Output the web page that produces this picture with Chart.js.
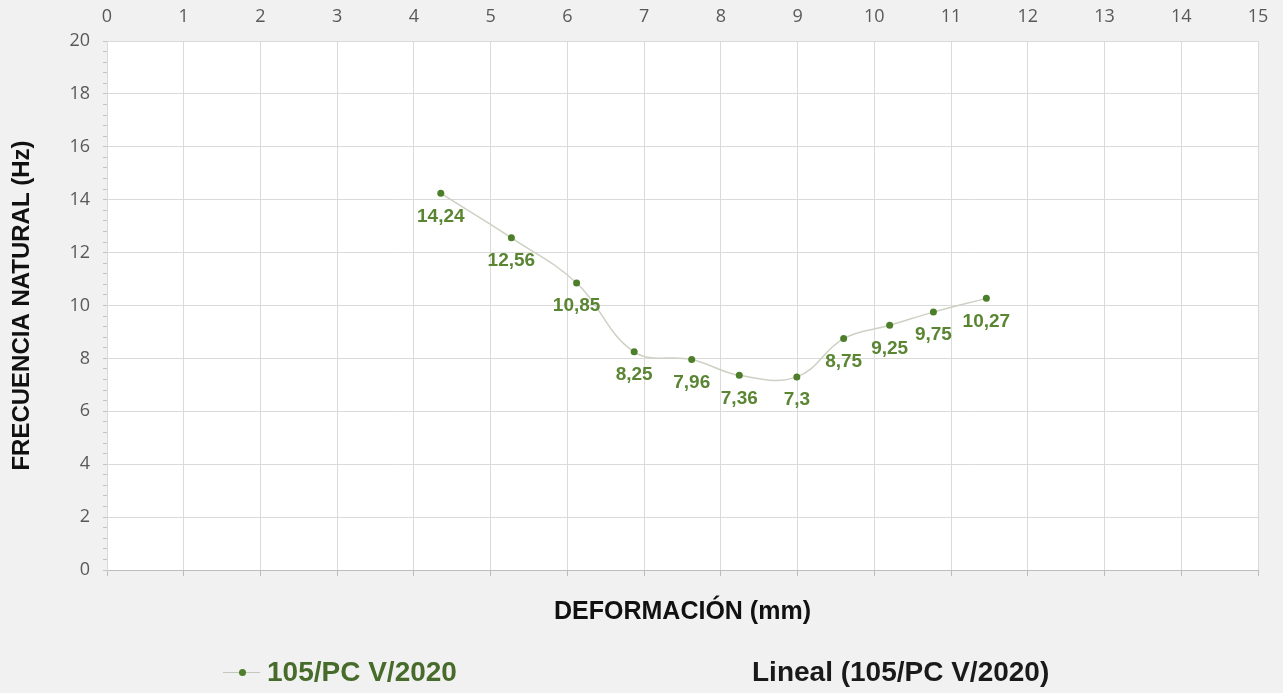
<!DOCTYPE html>
<html>
<head>
<meta charset="utf-8">
<title>Frecuencia natural vs deformación</title>
<script src="https://cdn.jsdelivr.net/npm/chart.js@4.4.1/dist/chart.umd.min.js"></script>
<style>
  html, body { margin: 0; padding: 0; background: #f1f1f1; }
  #wrap { position: relative; width: 1283px; height: 693px; overflow: hidden; }
  #chart { position: absolute; left: 0; top: 0; }
  .legend-item {
    position: absolute; top: 654px; height: 36px; line-height: 36px;
    font-family: "Liberation Sans", Arial, sans-serif; font-weight: bold; font-size: 28px;
    white-space: nowrap;
  }
  .legend-item.serie { left: 223px; color: #476b2a; }
  .legend-item.lineal { left: 752px; color: #1a1a1a; }
  .marker { display: inline-block; position: relative; width: 37px; height: 36px; vertical-align: top; margin-right: 7px; }
  .marker::before { content: ""; position: absolute; left: 0; right: 0; top: 18px; border-top: 1.5px solid #c3c8ba; }
  .marker::after { content: ""; position: absolute; left: 16px; top: 15px; width: 7px; height: 7px; border-radius: 50%; background: #4d7f2a; }
</style>
</head>
<body>
<div id="wrap">
  <canvas id="chart" width="1283" height="693"></canvas>
  <div class="legend-item serie"><span class="marker"></span>105/PC V/2020</div>
  <div class="legend-item lineal">Lineal (105/PC V/2020)</div>
</div>
<script>
// valores
const deformacion = [4.35, 5.27, 6.12, 6.87, 7.62, 8.24, 8.99, 9.60, 10.20, 10.77, 11.46];
const frecuencia = [14.24, 12.56, 10.85, 8.25, 7.96, 7.36, 7.3, 8.75, 9.25, 9.75, 10.27];
const serieNombre = "105/PC V/2020";

const xMin = 0, xMax = 15, xStep = 1;
const yMin = 0, yMax = 20, yStep = 2, yMinorStep = 0.4;

const tickFont = { family: "'Liberation Sans Narrow', 'Open Sans', sans-serif", size: 18 };
const gridColor = "#dadada";

const points = deformacion.map((x, i) => ({ x: x, y: frecuencia[i] }));

function isMajor(v) {
    return Math.abs(v / yStep - Math.round(v / yStep)) < 1e-6;
}

// fondo blanco del área de trazado
const plotBackground = {
    id: "plotBackground",
    beforeDraw(chart) {
        const { ctx, chartArea: a } = chart;
        ctx.save();
        ctx.fillStyle = "#ffffff";
        ctx.fillRect(a.left, a.top, a.right - a.left, a.bottom - a.top);
        ctx.restore();
    }
};

// etiquetas de datos bajo cada punto
const pointLabels = {
    id: "pointLabels",
    afterDatasetsDraw(chart) {
        const ctx = chart.ctx;
        const meta = chart.getDatasetMeta(0);
        ctx.save();
        ctx.font = "bold 19px 'Liberation Sans', Arial, sans-serif";
        ctx.fillStyle = "#5a8532";
        ctx.textAlign = "center";
        ctx.textBaseline = "middle";
        meta.data.forEach((el, i) => {
            const txt = String(frecuencia[i]).replace(".", ",");
            ctx.fillText(txt, el.x, el.y + 23);
        });
        ctx.restore();
    }
};

new Chart(document.getElementById("chart"), {
    type: "scatter",
    data: {
        datasets: [{
            label: serieNombre,
            data: points,
            showLine: true,
            tension: 0.4,
            borderColor: "#cdd1c4",
            borderWidth: 1.5,
            backgroundColor: "#4d7f2a",
            pointBackgroundColor: "#4d7f2a",
            pointBorderColor: "#4d7f2a",
            pointRadius: 3.5,
            pointBorderWidth: 0
        }]
    },
    options: {
        responsive: false,
        animation: false,
        devicePixelRatio: 1,
        layout: { padding: { left: 0, top: 0, right: 25, bottom: 66 } },
        plugins: {
            legend: { display: false },
            tooltip: { enabled: false }
        },
        scales: {
            x: {
                type: "linear",
                position: "top",
                min: xMin, max: xMax,
                ticks: { stepSize: xStep, padding: 13, color: "#595959", font: tickFont },
                grid: { color: gridColor, drawTicks: false },
                border: { color: gridColor },
                afterFit(s) { s.height = 41; }
            },
            x2: {
                type: "linear",
                position: "bottom",
                min: xMin, max: xMax,
                ticks: { stepSize: xStep, display: false },
                grid: { drawOnChartArea: false, tickLength: 6, tickColor: "#bdbdbd" },
                border: { color: "#bdbdbd" },
                title: {
                    display: true,
                    text: "DEFORMACIÓN (mm)",
                    color: "#111111",
                    font: { family: "'Liberation Sans', Arial, sans-serif", size: 25, weight: "bold" },
                    padding: { top: 21, bottom: 0 }
                },
                afterFit(s) { s.height = 57; }
            },
            y: {
                type: "linear",
                position: "left",
                min: yMin, max: yMax,
                afterBuildTicks(s) {
                    const t = [];
                    for (let k = 0; k <= Math.round((yMax - yMin) / yMinorStep); k++) {
                        t.push({ value: Math.round((yMin + k * yMinorStep) * 10) / 10 });
                    }
                    s.ticks = t;
                },
                ticks: {
                    autoSkip: false,
                    padding: 13,
                    color: "#595959",
                    font: tickFont,
                    callback: v => isMajor(v) ? String(v) : ""
                },
                grid: {
                    tickLength: 4,
                    color: c => (c.tick && isMajor(c.tick.value)) ? gridColor : "rgba(0,0,0,0)",
                    tickColor: "#c4c4c4"
                },
                border: { color: gridColor },
                title: {
                    display: true,
                    text: "FRECUENCIA NATURAL (Hz)",
                    color: "#111111",
                    font: { family: "'Liberation Sans', Arial, sans-serif", size: 24, weight: "bold" },
                    padding: { top: 8, bottom: 0 }
                },
                afterFit(s) { s.width = 107; }
            }
        }
    },
    plugins: [plotBackground, pointLabels]
});
</script>
</body>
</html>
